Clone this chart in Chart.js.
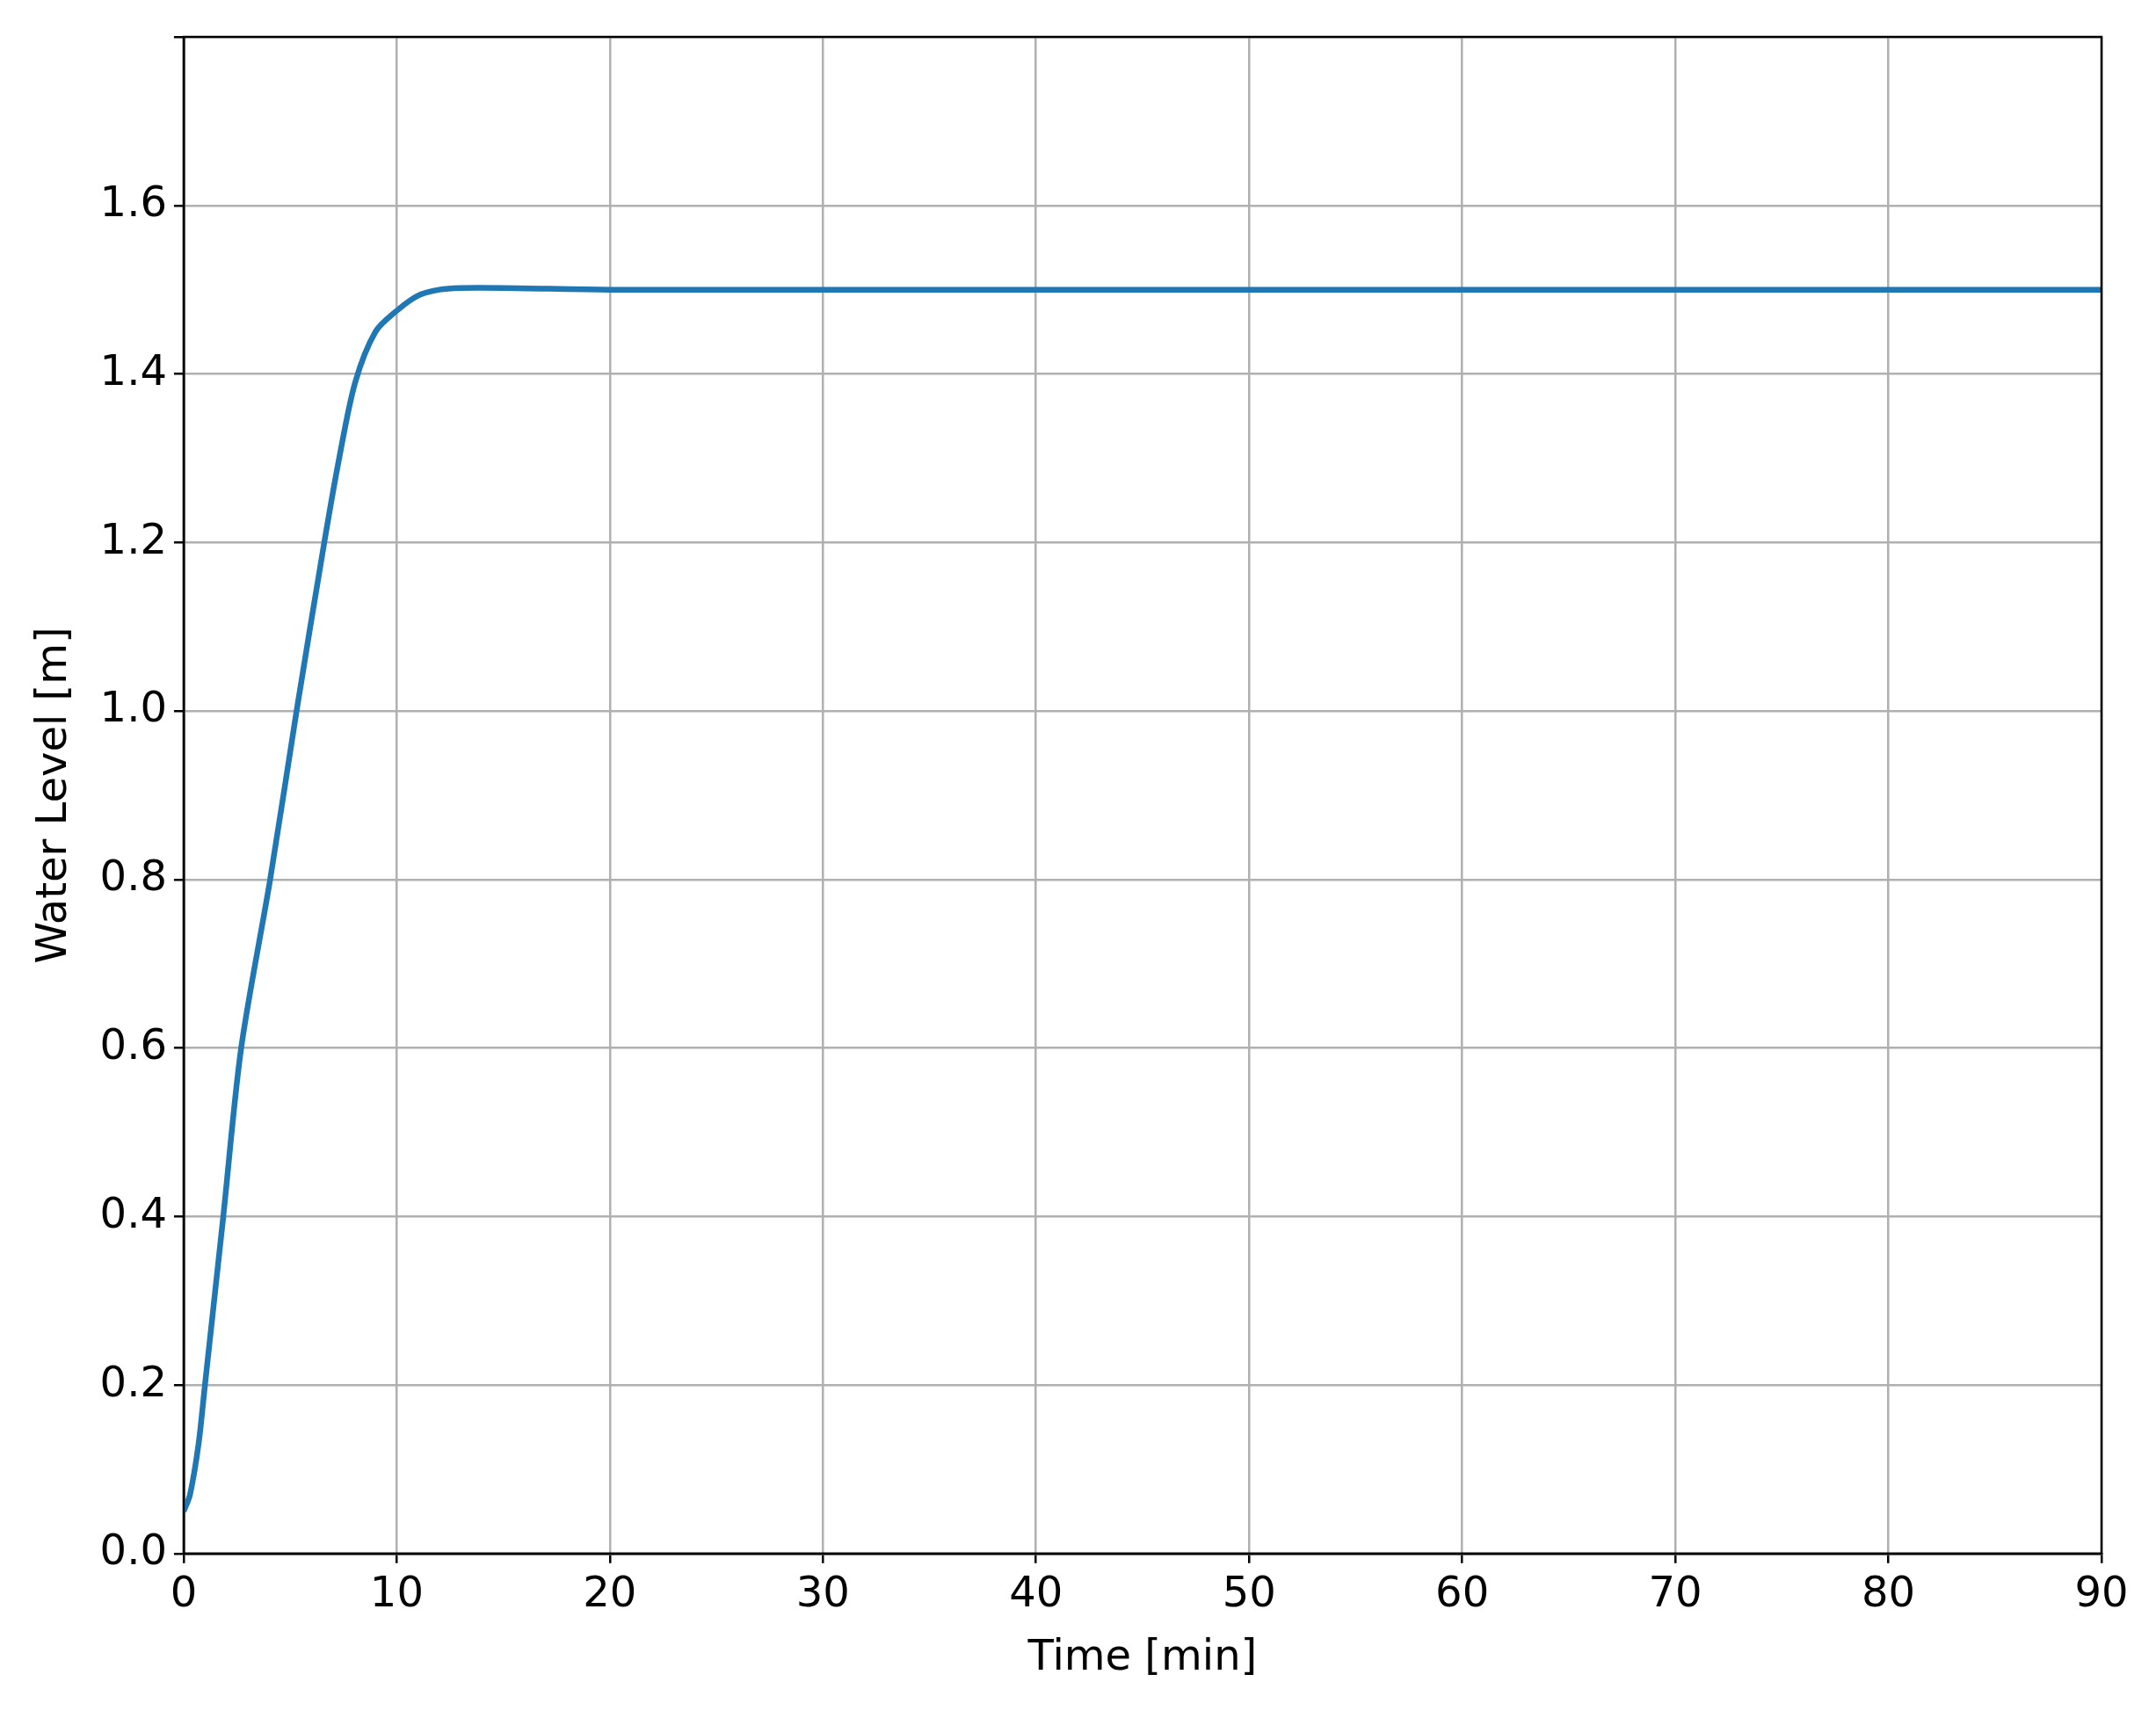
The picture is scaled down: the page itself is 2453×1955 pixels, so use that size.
<!DOCTYPE html>
<html>
<head>
<meta charset="utf-8">
<script src="https://cdn.jsdelivr.net/npm/chart.js@4"></script>
<style>
  body { margin: 0; background: #fff; }
</style>
</head>
<body>
<canvas id="levelCanvas" width="2453" height="1955"></canvas>
<script>
// water level response
const timeMin = [0, 0.3, 0.7, 1, 1.86, 2.7, 4.06, 5.3, 6.6, 7.3, 8.05, 9, 10, 11, 12, 13, 15, 20, 30, 50, 70, 90];
const waterLevel = [0.05, 0.07, 0.13, 0.2, 0.4, 0.6, 0.8, 1.0, 1.2, 1.3, 1.39, 1.45, 1.475, 1.493, 1.5, 1.502, 1.502, 1.5, 1.5, 1.5, 1.5, 1.5];
const xTicks = [0, 10, 20, 30, 40, 50, 60, 70, 80, 90];
const yTicks = [0, 0.2, 0.4, 0.6, 0.8, 1.0, 1.2, 1.4, 1.6];

const font = { family: "DejaVu Sans", size: 48 };

new Chart(document.getElementById("levelCanvas"), {
  type: "line",
  data: {
    datasets: [{
      data: timeMin.map((t, i) => ({ x: t, y: waterLevel[i] })),
      borderColor: "#1f77b4",
      borderWidth: 6.5,
      pointRadius: 0,
      tension: 0.3,
      fill: false
    }]
  },
  options: {
    responsive: false,
    devicePixelRatio: 1,
    animation: false,
    layout: { padding: { top: 42, right: 62, bottom: 35, left: 30 } },
    plugins: { legend: { display: false }, tooltip: { enabled: false } },
    scales: {
      x: {
        type: "linear", min: 0, max: 90,
        afterBuildTicks: axis => { axis.ticks = xTicks.map(v => ({ value: v })); },
        ticks: { font: font, color: "#000", padding: 8, maxRotation: 0 },
        grid: { color: "#b0b0b0", lineWidth: 2.5, tickLength: 11, tickColor: "#000" },
        border: { color: "#000", width: 2.5 },
        title: { display: true, text: "Time [min]", font: font, color: "#000", padding: { top: 6 } }
      },
      y: {
        type: "linear", min: 0, max: 1.8,
        afterBuildTicks: axis => { axis.ticks = yTicks.concat([1.8]).map(v => ({ value: v })); },
        ticks: {
          font: font, color: "#000", padding: 8,
          callback: v => (Math.abs(v - 1.8) < 1e-9 ? "" : v.toFixed(1))
        },
        grid: { color: "#b0b0b0", lineWidth: 2.5, tickLength: 11, tickColor: "#000" },
        border: { color: "#000", width: 2.5 },
        title: { display: true, text: "Water Level [m]", font: font, color: "#000", padding: { bottom: 14 } }
      }
    }
  },
  plugins: [{
    id: "frame",
    afterDraw(chart) {
      const { ctx, chartArea: a } = chart;
      ctx.save();
      ctx.strokeStyle = "#000";
      ctx.lineWidth = 2.5;
      ctx.strokeRect(a.left, a.top, a.right - a.left, a.bottom - a.top);
      ctx.restore();
    }
  }]
});
</script>
</body>
</html>
